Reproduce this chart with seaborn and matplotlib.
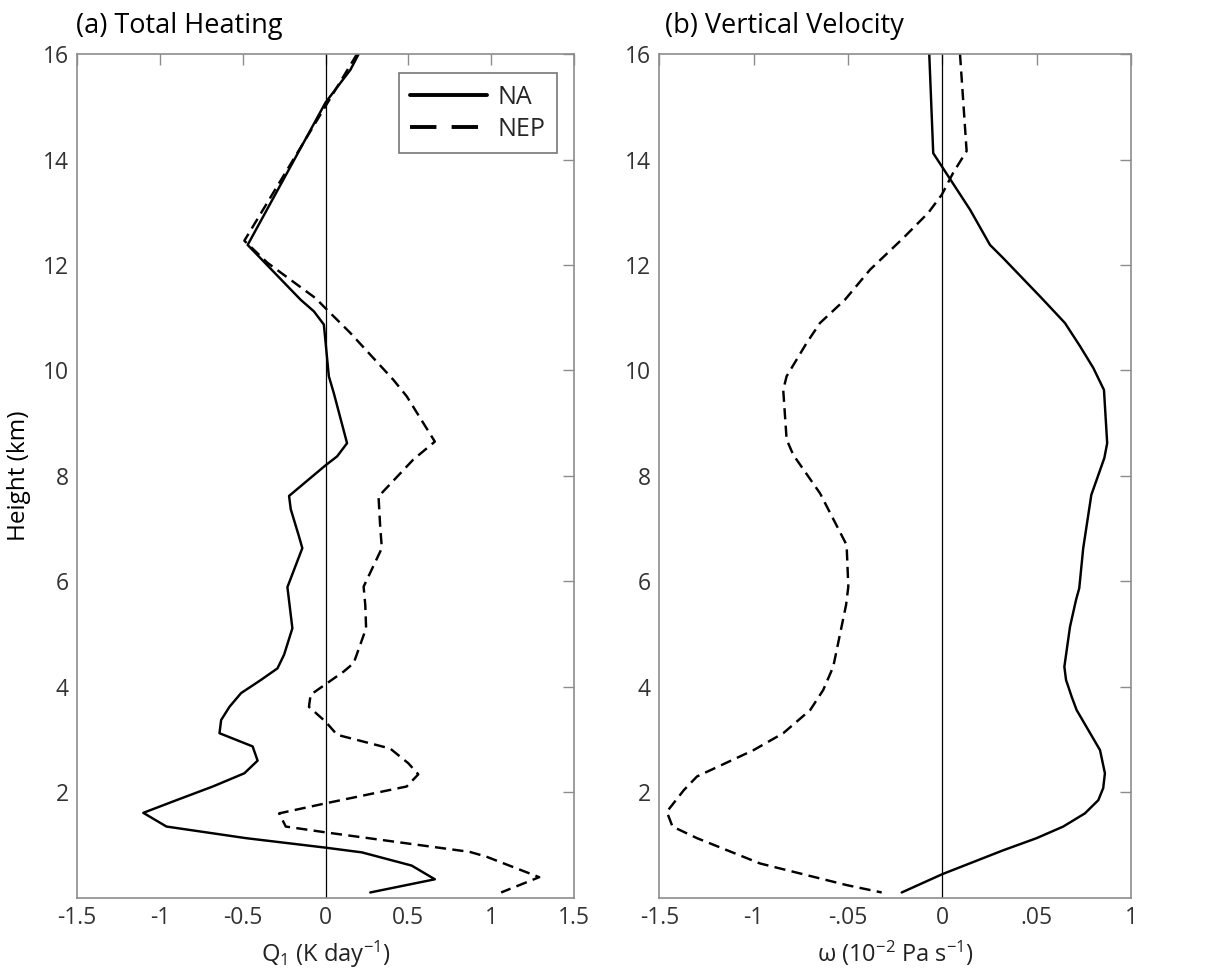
import matplotlib
matplotlib.use("Agg")
import matplotlib.pyplot as plt
import seaborn as sns
import pandas as pd
from matplotlib.lines import Line2D

# ---------------- data ----------------
# (a) Total heating Q1 (K/day)
q1_na_x = [0.20, 0.15, 0.0, -0.47, -0.15, -0.07, -0.01, 0.02, 0.05, 0.13, 0.07, 0.0,
           -0.22, -0.21, -0.16, -0.14, -0.23, -0.20, -0.25, -0.29, -0.39, -0.51, -0.58,
           -0.63, -0.64, -0.44, -0.41, -0.49, -0.68, -0.90, -1.10, -0.96, -0.48, 0.0,
           0.22, 0.52, 0.66, 0.27]
q1_na_z = [16.0, 15.7, 15.08, 12.38, 11.34, 11.12, 10.87, 9.89, 9.57, 8.62, 8.37, 8.20,
           7.62, 7.37, 6.85, 6.63, 5.89, 5.11, 4.61, 4.35, 4.13, 3.88, 3.62,
           3.37, 3.12, 2.87, 2.60, 2.36, 2.11, 1.85, 1.61, 1.35, 1.13, 0.95,
           0.86, 0.61, 0.35, 0.10]
q1_nep_x = [0.19, -0.49, -0.35, -0.06, -0.01, 0.15, 0.41, 0.49, 0.66, 0.53, 0.32, 0.33,
            0.34, 0.23, 0.24, 0.245, 0.17, 0.11, -0.09, -0.10, 0.0, 0.07, 0.39, 0.50,
            0.56, 0.49, 0.0, -0.28, -0.24, 0.0, 0.87, 0.97, 1.29, 1.06]
q1_nep_z = [16.0, 12.46, 12.04, 11.37, 11.21, 10.71, 9.82, 9.51, 8.65, 8.31, 7.61, 7.04,
            6.63, 5.90, 5.55, 5.11, 4.45, 4.29, 3.85, 3.62, 3.34, 3.09, 2.83, 2.55,
            2.34, 2.11, 1.79, 1.60, 1.35, 1.24, 0.87, 0.78, 0.39, 0.10]

# (b) Vertical velocity omega (1e-2 Pa/s)
w_na_x = [-0.069, -0.048, 0.147, 0.253, 0.323, 0.527, 0.650, 0.730, 0.800, 0.857, 0.874,
          0.859, 0.790, 0.747, 0.726, 0.709, 0.677, 0.647, 0.656, 0.686, 0.712, 0.836,
          0.862, 0.853, 0.827, 0.756, 0.641, 0.500, 0.323, 0.002, -0.215]
w_na_z = [16.0, 14.12, 13.05, 12.38, 12.13, 11.37, 10.90, 10.46, 10.05, 9.63, 8.62,
          8.34, 7.64, 6.63, 5.87, 5.65, 5.14, 4.38, 4.13, 3.81, 3.56, 2.80,
          2.36, 2.08, 1.85, 1.60, 1.35, 1.13, 0.90, 0.45, 0.10]
w_nep_x = [0.094, 0.129, 0.058, -0.003, -0.074, -0.207, -0.383, -0.516, -0.648, -0.719,
           -0.825, -0.843, -0.825, -0.790, -0.648, -0.507, -0.498, -0.510, -0.578, -0.631,
           -0.700, -0.843, -1.000, -1.300, -1.370, -1.460, -1.430, -1.300, -0.966, -0.507,
           -0.321]
w_nep_z = [16.0, 14.16, 13.75, 13.33, 12.99, 12.51, 11.91, 11.34, 10.90, 10.52,
           9.89, 9.63, 8.69, 8.40, 7.67, 6.69, 5.90, 5.55, 4.38, 3.94,
           3.56, 3.12, 2.80, 2.30, 2.04, 1.63, 1.35, 1.13, 0.65, 0.24,
           0.10]

series_names = ["NA", "NEP"]
yticks = [2, 4, 6, 8, 10, 12, 14, 16]
xticks_a = [-1.5, -1, -0.5, 0, 0.5, 1, 1.5]
xticklabels_a = ["-1.5", "-1", "-0.5", "0", "0.5", "1", "1.5"]
xticks_b = [-1.5, -1, -0.5, 0, 0.5, 1]
xticklabels_b = ["-1.5", "-1", "-.05", "0", ".05", "1"]

# ---------------- style ----------------
sns.set_theme(style="white")
plt.rcParams["font.family"] = ["Open Sans", "DejaVu Sans"]
plt.rcParams["mathtext.fontset"] = "custom"
plt.rcParams["mathtext.rm"] = "Open Sans"
plt.rcParams["mathtext.it"] = "Open Sans:italic"
plt.rcParams["mathtext.default"] = "rm"

fig = plt.figure(figsize=(12.11, 9.72), dpi=100)
axA = fig.add_axes([0.0636, 0.0764, 0.4104, 0.868])
axB = fig.add_axes([0.5444, 0.0764, 0.3895, 0.868])

spine_col = "#8c8c8c"
tick_col = "#333333"
dash = (4.6, 2.6)


def make_df(x, z, name):
    return pd.DataFrame({"x": x, "z": z, "series": name})


def draw(ax, na_x, na_z, nep_x, nep_z):
    d1 = make_df(na_x, na_z, series_names[0])
    d2 = make_df(nep_x, nep_z, series_names[1])
    sns.lineplot(data=d1, x="x", y="z", sort=False, estimator=None, ax=ax,
                 color="black", lw=1.75)
    sns.lineplot(data=d2, x="x", y="z", sort=False, estimator=None, ax=ax,
                 color="black", lw=1.75, dashes=False)
    ax.lines[-1].set_dashes(dash)
    ax.axvline(0, color="black", lw=0.9, zorder=1)


draw(axA, q1_na_x, q1_na_z, q1_nep_x, q1_nep_z)
draw(axB, w_na_x, w_na_z, w_nep_x, w_nep_z)

for ax, xt, xtl in [(axA, xticks_a, xticklabels_a), (axB, xticks_b, xticklabels_b)]:
    ax.set_ylim(0, 16)
    ax.set_xlim(xt[0], xt[-1])
    ax.set_xticks(xt)
    ax.set_xticklabels(xtl)
    ax.set_yticks(yticks)
    ax.set_yticklabels([str(v) for v in yticks])
    ax.tick_params(direction="in", length=8, width=1, colors=spine_col,
                   labelcolor=tick_col, labelsize=16.5, top=True, right=True,
                   pad=6)
    for s in ax.spines.values():
        s.set_visible(True)
        s.set_color(spine_col)
        s.set_linewidth(1.2)
    ax.set_xlabel("")
    ax.set_ylabel("")

axA.set_ylabel("Height (km)", fontsize=17.5, color="black", labelpad=8)
axA.set_xlabel(r"Q$_1$ (K day$^{-1}$)", fontsize=17, color="#222222", labelpad=6)
axB.set_xlabel(r"$\mathregular{\omega}$ (10$^{-2}$ Pa s$^{-1}$)", fontsize=17,
               color="#222222", labelpad=6)

fig.text(0.0627, 0.966, "(a) Total Heating", fontsize=19.5, color="black",
         ha="left", va="baseline")
fig.text(0.549, 0.966, "(b) Vertical Velocity", fontsize=19.5, color="black",
         ha="left", va="baseline")

handles = [Line2D([], [], color="black", lw=2.8, ls="-"),
           Line2D([], [], color="black", lw=2.8, ls=(0, (6.8, 3.9)))]
leg = axA.legend(handles, series_names, loc="upper right",
                 bbox_to_anchor=(0.965, 0.977), fontsize=18, frameon=True,
                 fancybox=False, handlelength=3.1, handletextpad=0.4,
                 borderpad=0.45, labelspacing=0.3, borderaxespad=0)
leg.get_frame().set_edgecolor("#555555")
leg.get_frame().set_linewidth(1.2)

fig.savefig("out.png", dpi=100)
